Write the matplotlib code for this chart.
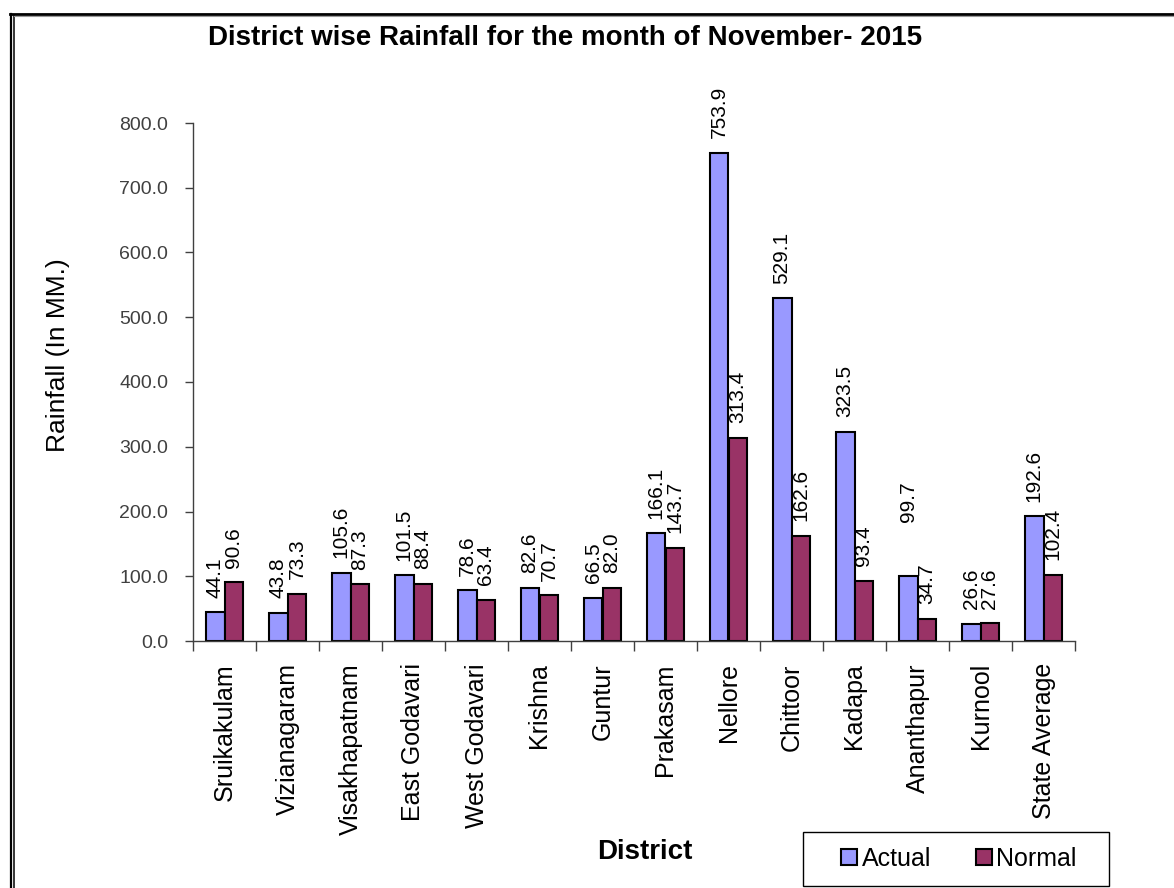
import matplotlib
matplotlib.use("Agg")
import matplotlib.pyplot as plt
import numpy as np
from matplotlib.lines import Line2D
from matplotlib.patches import Patch, Rectangle

plt.rcParams['font.family'] = ['Liberation Sans', 'DejaVu Sans']

districts = ["Sruikakulam", "Vizianagaram", "Visakhapatnam", "East Godavari",
             "West Godavari", "Krishna", "Guntur", "Prakasam", "Nellore",
             "Chittoor", "Kadapa", "Ananthapur", "Kurnool", "State Average"]
actual = [44.1, 43.8, 105.6, 101.5, 78.6, 82.6, 66.5, 166.1, 753.9, 529.1,
          323.5, 99.7, 26.6, 192.6]
normal = [90.6, 73.3, 87.3, 88.4, 63.4, 70.7, 82.0, 143.7, 313.4, 162.6,
          93.4, 34.7, 27.6, 102.4]
yticks = [0, 100, 200, 300, 400, 500, 600, 700, 800]

W, H = 1174, 888
fig = plt.figure(figsize=(W / 100, H / 100), dpi=100)
ax = fig.add_axes([193 / W, 1 - 641 / H, (1075 - 193) / W, (641 - 123) / H])

x = np.arange(len(districts))
bw = 0.30
c_act = "#9999FF"
c_nor = "#993366"
ax.bar(x - bw / 2, actual, bw, color=c_act, edgecolor="black", linewidth=1.5)
ax.bar(x + bw / 2, normal, bw, color=c_nor, edgecolor="black", linewidth=1.5)

lab_fs = 15
for i, v in enumerate(actual):
    off = 10.5
    if districts[i] == "Ananthapur":
        off = 39
    ax.annotate(f"{v:.1f}", (x[i] - bw / 2, v), xytext=(0, off),
                textcoords="offset points", rotation=90, ha="center",
                va="bottom", fontsize=lab_fs)
for i, v in enumerate(normal):
    ax.annotate(f"{v:.1f}", (x[i] + bw / 2, v), xytext=(0, 10.5),
                textcoords="offset points", rotation=90, ha="center",
                va="bottom", fontsize=lab_fs)

ax.set_xlim(-0.5, len(districts) - 0.5)
ax.set_ylim(0, 800)
ax.set_yticks(yticks)
ax.set_yticklabels([f"{t:.1f}" for t in yticks], fontsize=14, color="#404040")
ax.set_xticks(x)
ax.set_xticklabels(districts, rotation=90, fontsize=18)
ax.set_xticks(np.arange(len(districts) + 1) - 0.5, minor=True)
ax.tick_params(axis="x", which="major", length=0, pad=16)
ax.tick_params(axis="x", which="minor", length=7, width=1, color="#404040", direction="out")
ax.tick_params(axis="y", length=6, width=1, color="#404040", pad=12)

for s in ["top", "right"]:
    ax.spines[s].set_visible(False)
for s in ["left", "bottom"]:
    ax.spines[s].set_color("#404040")
    ax.spines[s].set_linewidth(1.0)

ax.set_ylabel("Rainfall (In MM.)", fontsize=19)
ax.yaxis.set_label_coords(70 / W, 1 - 355 / H, transform=fig.transFigure)

fig.text(565 / W, 1 - 38 / H, "District wise Rainfall for the month of November- 2015",
         ha="center", va="center", fontsize=20, fontweight="bold")
fig.text(645 / W, 1 - 852 / H, "District", ha="center", va="center",
         fontsize=20, fontweight="bold")

# legend box
fig.add_artist(Rectangle((803 / W, 1 - 886 / H), (1109 - 803) / W, (886 - 832) / H,
                         transform=fig.transFigure, facecolor="white",
                         edgecolor="black", linewidth=1.0))
handles = [Patch(facecolor=c_act, edgecolor="black", linewidth=1.5),
           Patch(facecolor=c_nor, edgecolor="black", linewidth=1.5)]
leg = fig.legend(handles, ["Actual", "Normal"], loc="center",
                 bbox_to_anchor=(959 / W, 1 - 859 / H), ncol=2, fontsize=18,
                 frameon=False, handlelength=0.62, handleheight=0.62,
                 handletextpad=0.2, columnspacing=1.8, borderpad=0, borderaxespad=0)

# frame border
fig.add_artist(Line2D([11 / W, 11 / W], [0, 1 - 14 / H], transform=fig.transFigure,
                      color="black", linewidth=1.6))
fig.add_artist(Line2D([13.8 / W, 13.8 / W], [0, 1 - 16 / H], transform=fig.transFigure,
                      color="black", linewidth=1.1))
fig.add_artist(Line2D([10 / W, 1], [1 - 14 / H, 1 - 14 / H], transform=fig.transFigure,
                      color="black", linewidth=2.0))
fig.add_artist(Line2D([14 / W, 1], [1 - 16.3 / H, 1 - 16.3 / H], transform=fig.transFigure,
                      color="#999999", linewidth=0.8))

fig.savefig("out.png", dpi=100)
